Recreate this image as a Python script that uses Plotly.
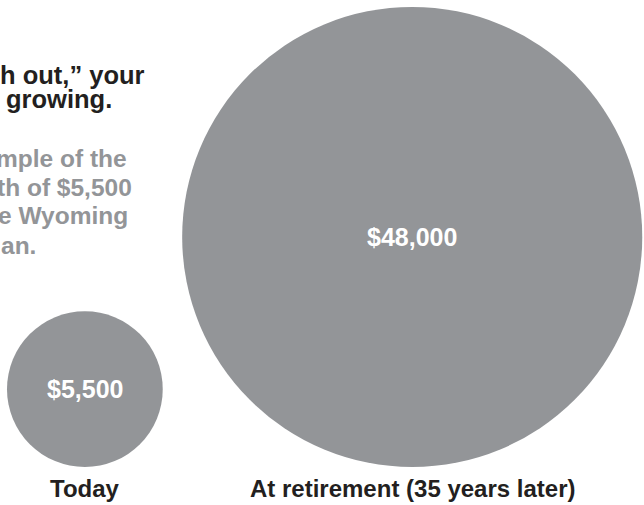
import math
import plotly.graph_objects as go

# ---- data ----
categories = ["Today", "At retirement (35 years later)"]
values = [5500, 48000]
headline_lines = ["h out,\u201d your", "growing."]
note_lines = ["mple of the", "th of $5,500", "e Wyoming", "an."]

# ---- style ----
W, H = 644, 505
CIRCLE = "#939598"
DARK = "#231f20"
FONT = "Liberation Sans, Arial, Helvetica, sans-serif"
S = 1.05          # pixels per data unit
LEFT_PX = 7       # left edge of first circle
BASE_PX = 467     # common bottom of circles
GAP = 18.5        # data units between circles

radii = [math.sqrt(v) for v in values]
centers = []
x = 0.0
for r in radii:
    centers.append(x + r)
    x += 2 * r + GAP

fig = go.Figure()
# invisible trace to set up axes
fig.add_trace(go.Scatter(x=centers, y=radii, mode="markers",
                         marker=dict(opacity=0), hoverinfo="skip", showlegend=False))

for cx, r, v, cat in zip(centers, radii, values, categories):
    fig.add_shape(type="circle", xref="x", yref="y",
                  x0=cx - r, x1=cx + r, y0=0, y1=2 * r,
                  fillcolor=CIRCLE, line=dict(width=0), layer="below")
    fig.add_annotation(x=cx, y=r, xref="x", yref="y", text=f"<b>${v:,}</b>",
                       showarrow=False, font=dict(family=FONT, size=25, color="white"))
    fig.add_annotation(x=cx, y=0, xref="x", yref="y", text=f"<b>{cat}</b>",
                       showarrow=False, yanchor="middle", yshift=-21,
                       font=dict(family=FONT, size=24, color=DARK))

head_x = [-2, 4]
head_y = [75, 99]
for t, xp, yp in zip(headline_lines, head_x, head_y):
    fig.add_annotation(x=xp / W, y=1 - yp / H, xref="paper", yref="paper",
                       text=f"<b>{t}</b>", showarrow=False, xanchor="left", yanchor="middle",
                       font=dict(family=FONT, size=25.5, color=DARK))

note_x = [-6, -5, -4, -1]
note_y = [158, 187, 216, 245]
for t, xp, yp in zip(note_lines, note_x, note_y):
    fig.add_annotation(x=xp / W, y=1 - yp / H, xref="paper", yref="paper",
                       text=f"<b>{t}</b>", showarrow=False, xanchor="left", yanchor="middle",
                       font=dict(family=FONT, size=24.5, color=CIRCLE))

x_min = -LEFT_PX / S
y_min = -(H - BASE_PX) / S
fig.update_xaxes(range=[x_min, x_min + W / S], visible=False, fixedrange=True)
fig.update_yaxes(range=[y_min, y_min + H / S], visible=False, fixedrange=True)
fig.update_layout(width=W, height=H, margin=dict(l=0, r=0, t=0, b=0),
                  paper_bgcolor="white", plot_bgcolor="white", showlegend=False)

fig.write_html("out.html", config={"displayModeBar": False},
               post_script="document.body.style.margin='0';document.body.style.overflow='hidden';")
